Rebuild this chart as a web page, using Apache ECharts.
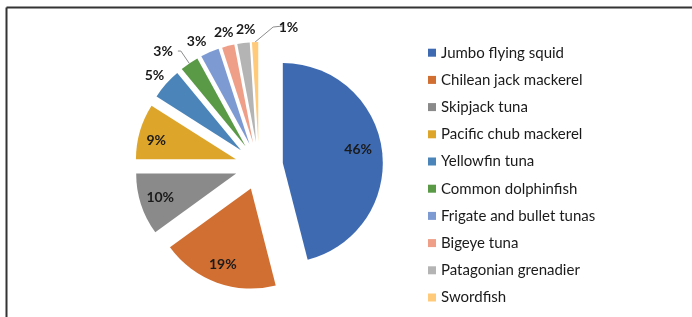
<!DOCTYPE html>
<html><head><meta charset="utf-8">
<script src="https://cdn.jsdelivr.net/npm/echarts@6/dist/echarts.min.js"></script>
<style>html,body{margin:0;padding:0;background:#fff}#c{width:692px;height:317px}</style>
</head><body><div id="c"></div>
<script>
const categories = ['Jumbo flying squid','Chilean jack mackerel','Skipjack tuna','Pacific chub mackerel','Yellowfin tuna','Common dolphinfish','Frigate and bullet tunas','Bigeye tuna','Patagonian grenadier','Swordfish'];
const values = [46,19,10,9,5,3,3,2,2,1];
const colors = ['#3E6AB2','#D16F32','#8A8A8A','#DDA52A','#4A84B8','#5A9A47','#7E9AD3','#EF9F87','#B4B4B4','#FFCA7A'];
// which label belongs to which label layer
const insideLabelIdx = [0,1,2,3];
const outerLabelIdxA = [4,7];
const outerLabelIdxB = [6,8];
const leaderLabelIdx = [5,9];
// small per-label nudges in px [dx, dy]
const labelNudge = {0:[-7,-3], 1:[0,-2], 2:[3,-2], 3:[0,4], 4:[2,3], 6:[-6,6], 7:[0,4], 8:[4.5,4]};

const FONT = 'Lato';
const labelText = {fontFamily: FONT, fontWeight: 'bold', fontSize: 14, color: '#1a1a1a', textBorderWidth: 0, formatter: '{c}%'};

function makeData(showIdx) {
  return categories.map((name, i) => {
    const lab = {show: showIdx.indexOf(i) >= 0};
    const n = labelNudge[i];
    if (n) {
      lab.padding = [0, Math.max(0, -2 * n[0]), 0, Math.max(0, 2 * n[0])];
      if (n[1]) lab.lineHeight = 2 * Math.abs(n[1]);
    }
    return {name, value: values[i], selected: true, label: lab, labelLine: {show: showIdx.indexOf(i) >= 0}};
  });
}
function nudgeLayout(p) {
  const n = labelNudge[p.dataIndex];
  if (n && n[1]) return {verticalAlign: n[1] > 0 ? 'top' : 'bottom'};
}
const common = {
  type: 'pie', center: [259, 166], startAngle: 90, clockwise: true,
  selectedMode: 'multiple', selectedOffset: 24, avoidLabelOverlap: false,
  emphasis: {disabled: true}, animation: false
};
function labelLayer(name, radius, idx) {
  return Object.assign({}, common, {
    name, radius: [0, radius], silent: true,
    itemStyle: {color: 'rgba(0,0,0,0)'},
    label: Object.assign({position: 'inside'}, labelText),
    labelLine: {show: false},
    labelLayout: nudgeLayout,
    data: makeData(idx)
  });
}
const chart = echarts.init(document.getElementById('c'), null, {renderer: 'canvas'});
chart.setOption({
  animation: false,
  color: colors,
  legend: {
    data: categories, orient: 'vertical', left: 428, top: 44.7, padding: 0,
    itemWidth: 8, itemHeight: 8, itemGap: 11.2, icon: 'rect', selectedMode: false,
    textStyle: {fontFamily: FONT, fontSize: 15, color: '#1a1a1a', lineHeight: 16}
  },
  graphic: [
    {type: 'line', shape: {x1: 6.5, y1: 7.5, x2: 692, y2: 7.5}, style: {stroke: '#333', lineWidth: 2}, silent: true},
    {type: 'line', shape: {x1: 6.5, y1: 7.5, x2: 6.5, y2: 317}, style: {stroke: '#333', lineWidth: 2}, silent: true}
  ],
  series: [
    Object.assign({}, common, {
      name: 'main', radius: 100,
      label: Object.assign({position: 'outside'}, labelText),
      labelLine: {length: 15, length2: 3, lineStyle: {color: '#8c8c8c', width: 1}, smooth: false},
      data: makeData(leaderLabelIdx).map((d, i) => (i === 9 ? Object.assign(d, {label: Object.assign(d.label, {padding: [0, 0, 4, 32]})}) : d)),
      labelLayout: function (p) {
        if (p.dataIndex === 9 && p.labelLinePoints) {
          const a = p.labelLinePoints[0];
          return {align: 'left',
            labelLinePoints: [a, [a[0] + 18, a[1] - 15], [a[0] + 27, a[1] - 16]]};
        }
      }
    }),
    labelLayer('inLabels', 160, insideLabelIdx),
    labelLayer('outLabelsA', 230, outerLabelIdxA),
    labelLayer('outLabelsB', 230, outerLabelIdxB)
  ]
});
</script></body></html>
